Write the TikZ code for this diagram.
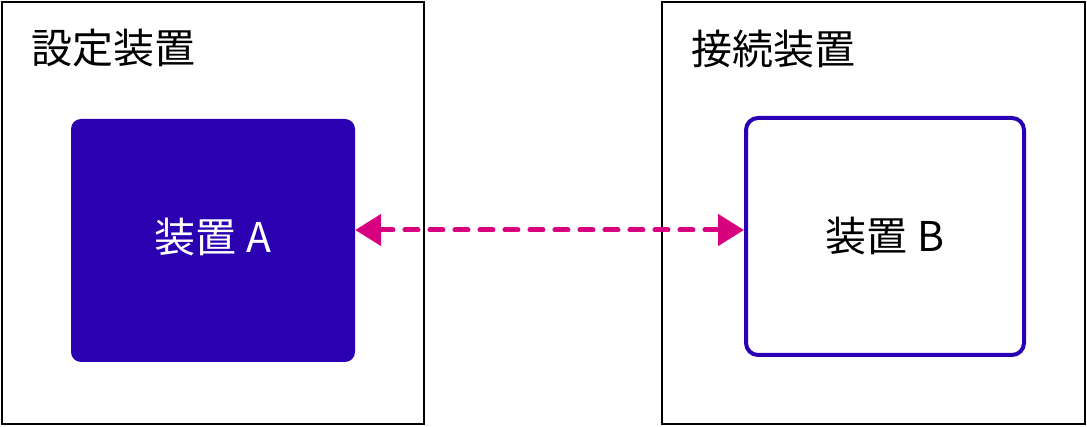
\documentclass[tikz,border=0pt]{standalone}
\usepackage{fontspec}
\setmainfont{Noto Sans CJK JP}
\usetikzlibrary{arrows.meta}
\definecolor{devfill}{HTML}{2A00B0}
\definecolor{devline}{HTML}{2A00B5}
\definecolor{linkcol}{HTML}{D7007F}
\begin{document}
\begin{tikzpicture}[x=1pt,y=-1pt,
  outerbox/.style={draw=black,line width=2pt},
  title/.style={anchor=west,inner sep=0pt,font=\fontsize{41}{49}\selectfont},
  devlabel/.style={font=\fontsize{41}{49}\selectfont,inner sep=0pt},
  link/.style={linkcol,line width=5pt,dash pattern=on 13pt off 12pt,line cap=round,
    {Triangle[length=26pt,width=31pt,line cap=butt]}-{Triangle[length=26pt,width=31pt,line cap=butt]}}]
\useasboundingbox (0,0) rectangle (1087,427);
\draw[outerbox] (2,2) rectangle (424,424);
\draw[outerbox] (662,2) rectangle (1085,424);
\node[title] (t1) at (31,48) {設定装置};
\node[title] (t2) at (691,49) {接続装置};
\path[fill=devfill,rounded corners=10pt] (71,119) rectangle (355,362);
\node[minimum width=284pt,minimum height=243pt,inner sep=0pt] (a) at (213,240.5) {};
\node[devlabel,text=white] (la) at (213,237) {装置 A};
\node[draw=devline,line width=4pt,rounded corners=12pt,minimum width=278pt,minimum height=237pt,inner sep=0pt] (b) at (885,236.5) {};
\node[devlabel] (lb) at (885,236) {装置 B};
\draw[link] (a.east |- 0,230) -- (b.west |- 0,230);
\end{tikzpicture}
\end{document}
